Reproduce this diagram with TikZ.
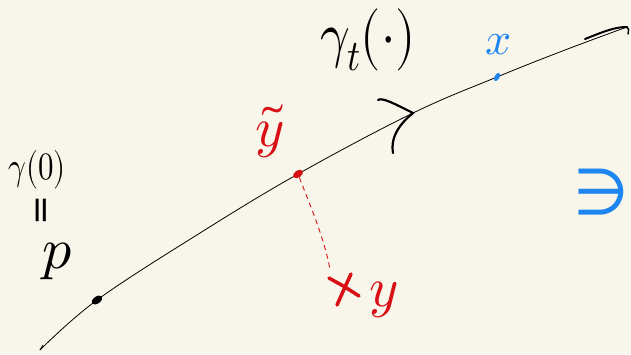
\documentclass[tikz,border=0pt]{standalone}
\usepackage{fontspec}
\usepackage{unicode-math}
\usetikzlibrary{shapes.geometric}
\newfontfamily\symfont{DejaVu Sans}
\definecolor{paper}{HTML}{F8F6EB}
\definecolor{inkred}{HTML}{D80F14}
\definecolor{inkblue}{HTML}{1E86F0}
\begin{document}
\begin{tikzpicture}[x=1pt,y=-1pt,
  curveline/.style={line width=0.8pt,black},
  lbl/.style={inner sep=0pt,anchor=center},
  redlbl/.style={lbl,text=inkred},
  bluelbl/.style={lbl,text=inkblue}]
\fill[paper] (0,0) rectangle (631,354);
\useasboundingbox (0,0) rectangle (631,354);
% curve points
\coordinate (c0) at (40,350);
\coordinate (p) at (97,300);
\coordinate (c2) at (200,233);
\coordinate (yt) at (298,174);
\coordinate (tip) at (413,113);
\coordinate (x) at (497,77);
\coordinate (c6) at (565,50);
\coordinate (cend) at (627,27);
\draw[curveline] plot[smooth,tension=0.6] coordinates {(c0) (p) (c2) (yt) (tip) (x) (c6) (cend)};
% thicker end and hook
\draw[line width=2pt,line cap=round] (585,39) .. controls (605,31) and (615,27) .. (cend);
\draw[line width=1.5pt,line cap=round] (cend) .. controls (629,28) and (629,31) .. (628,34);
\draw[line width=0.8pt] (40,350) -- (43,345);
% arrowhead chevron
\coordinate (a1) at (378,100);
\coordinate (a2) at (393,153);
\draw[line width=2.2pt,line cap=round] (a1) .. controls (382,97) and (395,104) .. (tip)
  .. controls (402,122) and (390,135) .. (a2);
% dots
\node[fill=black,ellipse,minimum width=12pt,minimum height=7pt,inner sep=0pt,rotate=35] (pdot) at (p) {};
\node[fill=inkred,ellipse,minimum width=11pt,minimum height=7pt,inner sep=0pt,rotate=35] (ydot) at (yt) {};
\node[fill=inkblue,ellipse,minimum width=5pt,minimum height=9pt,inner sep=0pt,rotate=-30] (xdot) at (x) {};
% red cross
\coordinate (ystar) at (345,287);
\draw[inkred,line width=3.5pt,line cap=round] (329,278) -- (ystar) -- (359,296);
\draw[inkred,line width=3.5pt,line cap=round] (351,274) -- (ystar) -- (337,305);
% dashed link
\draw[inkred,line width=0.9pt,dash pattern=on 5pt off 4pt] (ydot) .. controls (310,205) and (325,240) .. (330,270);
% labels
\node[lbl,font=\fontsize{52}{52}\selectfont] (gt) at (368,40) {\scalebox{1}[1.2]{$\gamma_t(\cdot)$}};
\node[lbl,font=\fontsize{31}{31}\selectfont] (g0) at (37,170) {\scalebox{1}[1.25]{$\gamma(0)$}};
\node[lbl,rotate=90,font=\symfont\fontsize{36}{36}\selectfont] (eq) at (44,210) {=};
\node[lbl,font=\fontsize{58}{58}\selectfont] (plab) at (58,261) {$p$};
\node[redlbl,font=\fontsize{56}{56}\selectfont] (ytl) at (270,131) {$\tilde{y}$};
\node[redlbl,font=\fontsize{56}{56}\selectfont] (yl) at (384,300) {$y$};
\node[bluelbl,font=\fontsize{46}{46}\selectfont] (xl) at (499,45) {$x$};
\node[bluelbl,font=\symfont\fontsize{64}{64}\selectfont] (M) at (601,192) {∋};
\end{tikzpicture}
\end{document}
